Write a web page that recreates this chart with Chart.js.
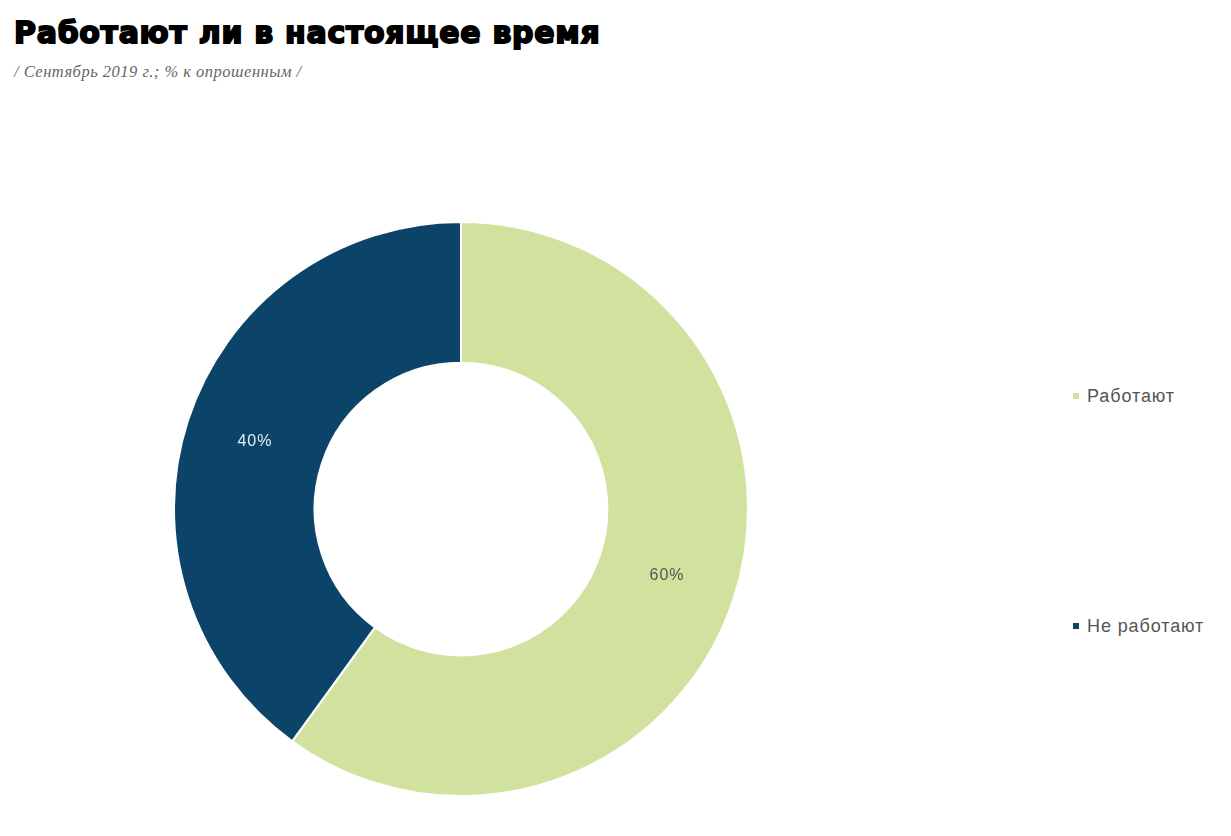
<!DOCTYPE html>
<html lang="ru">
<head>
<meta charset="utf-8">
<title>Работают ли в настоящее время</title>
<script src="https://cdn.jsdelivr.net/npm/chart.js@4.4.0/dist/chart.umd.min.js"></script>
<style>
    html, body { margin: 0; padding: 0; background: #fff; }
    body { width: 1231px; height: 836px; position: relative; overflow: hidden; }
    h1 {
        position: absolute; left: 14px; top: 13px; margin: 0;
        font-family: "DejaVu Sans", "Liberation Sans", sans-serif;
        font-weight: bold; font-size: 30px; line-height: 40px; color: #000;
        -webkit-text-stroke: 1.8px #000; letter-spacing: 0.7px;
    }
    .subtitle {
        position: absolute; left: 14px; top: 62px;
        font-family: "Liberation Serif", "DejaVu Serif", serif;
        font-style: italic; font-size: 16.5px; color: #666; letter-spacing: 0.5px;
    }
    #chartBox { position: absolute; left: 0; top: 221px; width: 922px; height: 576px; }
    .legend-item {
        position: absolute; left: 1073px;
        font-family: "Liberation Sans", Arial, sans-serif; font-size: 18px; color: #555;
        letter-spacing: 0.9px; line-height: 20px;
        display: flex; align-items: center;
    }
    .legend-item span.box { width: 6px; height: 6px; margin-right: 8px; display: inline-block; }
</style>
</head>
<body>
<h1>Работают ли в настоящее время</h1>
<div class="subtitle">/ Сентябрь 2019 г.; % к опрошенным /</div>
<div id="chartBox"><canvas id="workChart"></canvas></div>
<div id="legend"></div>

<script>
// --- data ---
const categories = ['Работают', 'Не работают'];
const shares = [60, 40];
const sliceColors = ['#d0e29d', '#0b4468'];
const labelColors = ['#555555', '#e6edf2'];
const legendTops = [386, 616];

// value labels in the middle of each slice
const sliceLabelsPlugin = {
    id: 'sliceLabels',
    afterDatasetsDraw(chart) {
        const { ctx } = chart;
        const meta = chart.getDatasetMeta(0);
        ctx.save();
        ctx.font = '16px "Liberation Sans", Arial, sans-serif';
        ctx.letterSpacing = '1px';
        ctx.textAlign = 'center';
        ctx.textBaseline = 'middle';
        meta.data.forEach((arc, i) => {
            const pos = arc.tooltipPosition();
            ctx.fillStyle = labelColors[i];
            ctx.fillText(shares[i] + '%', pos.x, pos.y);
        });
        ctx.restore();
    }
};

new Chart(document.getElementById('workChart'), {
    type: 'doughnut',
    data: {
        labels: categories,
        datasets: [{
            data: shares,
            backgroundColor: sliceColors,
            borderColor: '#ffffff',
            borderWidth: 2
        }]
    },
    options: {
        responsive: true,
        maintainAspectRatio: false,
        animation: false,
        cutout: '51%',
        layout: { padding: 0 },
        plugins: {
            legend: { display: false },
            tooltip: { enabled: false }
        }
    },
    plugins: [sliceLabelsPlugin]
});

// legend on the right, spaced like the original
const legendEl = document.getElementById('legend');
categories.forEach((name, i) => {
    const item = document.createElement('div');
    item.className = 'legend-item';
    item.style.top = legendTops[i] + 'px';
    item.innerHTML = '<span class="box" style="background:' + sliceColors[i] + '"></span>' + name;
    legendEl.appendChild(item);
});
</script>
</body>
</html>
